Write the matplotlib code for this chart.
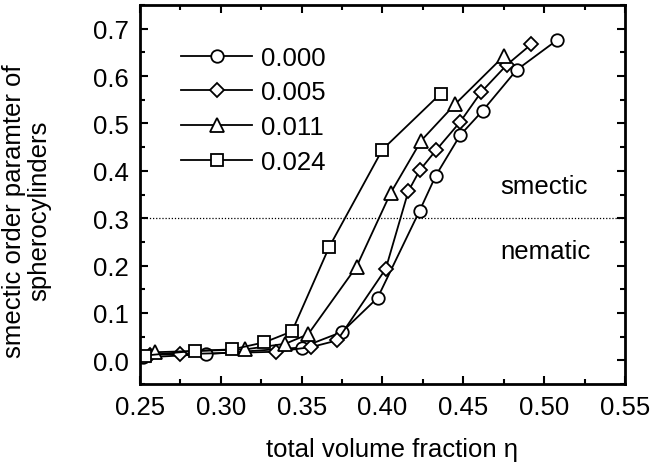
import matplotlib
matplotlib.use("Agg")
import matplotlib.pyplot as plt
from matplotlib.ticker import MultipleLocator, FormatStrFormatter

plt.rcParams['font.family'] = ['Liberation Sans', 'DejaVu Sans']

# data
eta_000 = [0.252, 0.291, 0.350, 0.375, 0.397, 0.423, 0.433, 0.448, 0.462, 0.483, 0.508]
s_000 = [0.006, 0.013, 0.027, 0.060, 0.132, 0.316, 0.390, 0.475, 0.527, 0.613, 0.676]

eta_005 = [0.256, 0.275, 0.334, 0.356, 0.372, 0.402, 0.416, 0.423, 0.433, 0.448, 0.461, 0.477, 0.492]
s_005 = [0.012, 0.013, 0.018, 0.028, 0.042, 0.193, 0.357, 0.401, 0.443, 0.503, 0.566, 0.624, 0.667]

eta_011 = [0.259, 0.315, 0.340, 0.354, 0.384, 0.405, 0.424, 0.445, 0.475]
s_011 = [0.017, 0.023, 0.035, 0.055, 0.198, 0.353, 0.464, 0.541, 0.642]

eta_024 = [0.253, 0.284, 0.307, 0.327, 0.344, 0.367, 0.400, 0.436]
s_024 = [0.010, 0.020, 0.023, 0.038, 0.061, 0.239, 0.445, 0.563]

labels = ['0.000', '0.005', '0.011', '0.024']
markers = ['o', 'D', '^', 's']
msizes = [9, 7.5, 9.5, 9]

fig = plt.figure(figsize=(6.5, 4.64), dpi=100)
ax = fig.add_axes([0.2154, 0.1703, 0.7461, 0.8167])

series = [(eta_000, s_000), (eta_005, s_005), (eta_011, s_011), (eta_024, s_024)]
for (x, y), lab, m, ms in zip(series, labels, markers, msizes):
    ax.plot(x, y, '-', color='black', lw=1.3, marker=m, ms=ms, mfc='white',
            mec='black', mew=1.3, label=lab)

ax.axhline(0.3, color='black', lw=0.9, ls=(0, (1, 1.5)))
ax.text(0.4728, 0.368, 'smectic', fontsize=18.5, va='center', ha='left')
ax.text(0.4728, 0.23, 'nematic', fontsize=18.5, va='center', ha='left')

ax.set_xlim(0.25, 0.55)
ax.set_ylim(-0.05, 0.75)
ax.xaxis.set_major_locator(MultipleLocator(0.05))
ax.xaxis.set_minor_locator(MultipleLocator(0.025))
ax.yaxis.set_major_locator(MultipleLocator(0.1))
ax.yaxis.set_minor_locator(MultipleLocator(0.05))
ax.xaxis.set_major_formatter(FormatStrFormatter('%.2f'))
ax.yaxis.set_major_formatter(FormatStrFormatter('%.1f'))
ax.tick_params(which='both', direction='in', top=True, right=True, width=1.5, labelsize=18.5)
ax.tick_params(which='major', length=6, pad=8)
ax.tick_params(which='minor', length=3.5)
for s in ax.spines.values():
    s.set_linewidth(2)

ax.set_xlabel('total volume fraction η', fontsize=18.5)
ax.xaxis.set_label_coords(0.52, -0.14)
ax.set_ylabel('smectic order paramter of\nspherocylinders', fontsize=18.5,
              linespacing=1.05)
ax.yaxis.set_label_coords(-0.183, 0.459)

leg = ax.legend(loc='upper left', frameon=False, fontsize=18.5, numpoints=1,
                handlelength=2.75, handletextpad=0.35, labelspacing=0.42,
                borderaxespad=0, bbox_to_anchor=(0.064, 0.92))

fig.savefig('out.png', dpi=100)
